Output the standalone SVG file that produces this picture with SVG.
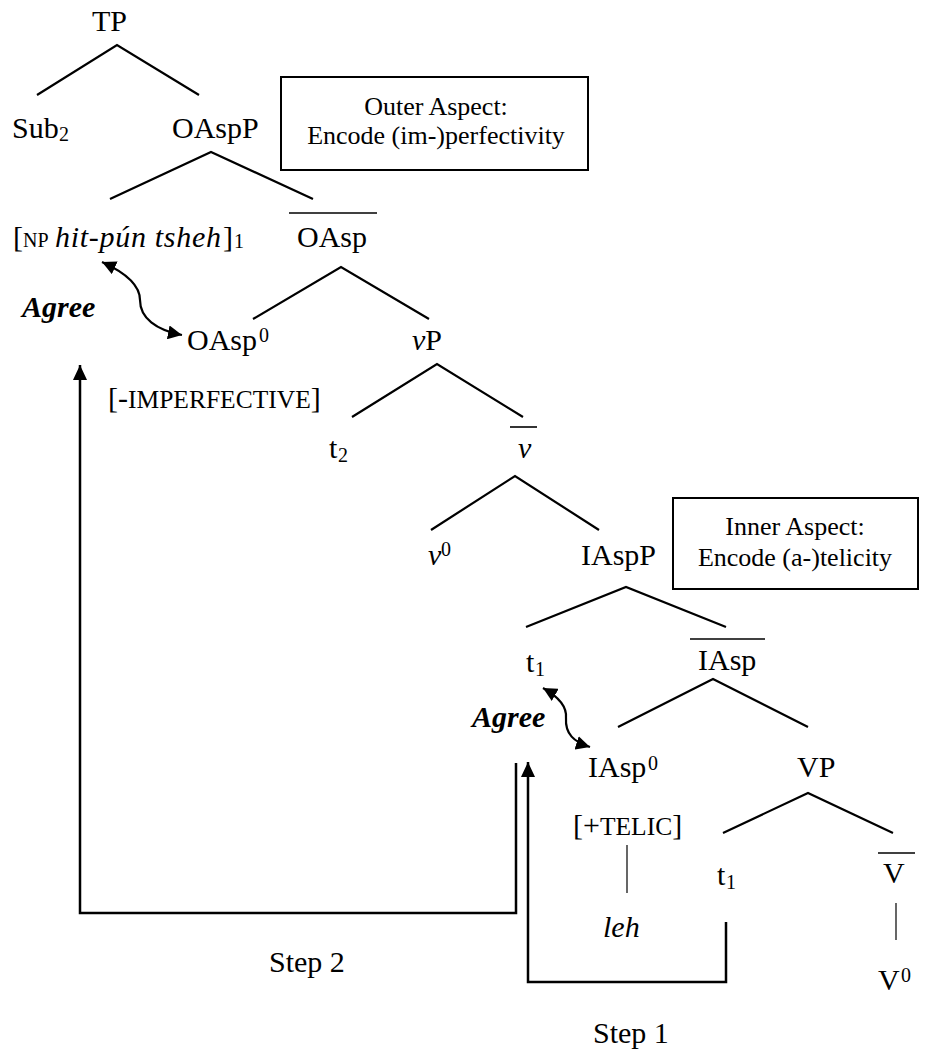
<svg xmlns="http://www.w3.org/2000/svg" width="925" height="1054" viewBox="0 0 925 1054" font-family="'Liberation Serif', 'Times New Roman', serif">
  <style>
    text { font-family: "Liberation Serif", "Times New Roman", serif; font-size: 30px; fill: #000; }
    .it { font-style: italic; }
    .bi { font-style: italic; font-weight: bold; }
    .sm { font-size: 20px; }
    .sc { font-size: 25.5px; }
    .note { font-size: 26px; text-anchor: middle; }
    .branch { fill: none; stroke: #000; stroke-width: 2.2; }
    .bar { stroke: #000; stroke-width: 1.6; }
    .stem { stroke: #000; stroke-width: 1.2; }
    .box { fill: none; stroke: #000; stroke-width: 2; }
    .move { fill: none; stroke: #000; stroke-width: 2.5; marker-end: url(#head); }
    .agree { fill: none; stroke: #000; stroke-width: 2.2; marker-start: url(#tip); marker-end: url(#tip); }
  </style>
  <defs>
    <marker id="head" markerUnits="userSpaceOnUse" markerWidth="16" markerHeight="14" refX="15" refY="7" orient="auto">
      <path d="M0,0 L15,7 L0,14 z" fill="#000"/>
    </marker>
    <marker id="tip" markerUnits="userSpaceOnUse" markerWidth="16" markerHeight="14" refX="14" refY="7" orient="auto-start-reverse">
      <path d="M0,0 L14,7 L0,14 z" fill="#000"/>
    </marker>
  </defs>

  <!-- branches of the tree -->
  <g id="branches">
    <polyline class="branch" points="37,95 117,45 199,95"/>
    <polyline class="branch" points="110,199 211,152 313,199"/>
    <polyline class="branch" points="253,319 341,267 429,319"/>
    <polyline class="branch" points="352,417 437,364 523,417"/>
    <polyline class="branch" points="431,530 515,476 599,530"/>
    <polyline class="branch" points="526,627 626,587 726,627"/>
    <polyline class="branch" points="618,727 713,679 808,727"/>
    <polyline class="branch" points="723,833 808,793 893,833"/>
    <line class="stem" x1="627" y1="845" x2="627" y2="893"/>
    <line class="stem" x1="896" y1="903" x2="896" y2="940"/>
  </g>

  <!-- nodes -->
  <g id="TP"><text x="92" y="31">TP</text></g>
  <g id="Sub2"><text x="12" y="138">Sub</text><text class="sm" x="59" y="141">2</text></g>
  <g id="OAspP"><text x="172" y="138">OAspP</text></g>
  <g id="NP">
    <text x="13" y="247">[</text>
    <text class="sm" x="23" y="247">NP</text>
    <text class="it" x="55" y="247" textLength="166" lengthAdjust="spacing">hit-pún tsheh</text>
    <text x="223" y="247">]</text>
    <text class="sm" x="234" y="248">1</text>
  </g>
  <g id="OAsp-bar">
    <line class="bar" x1="289" y1="213" x2="377" y2="213"/>
    <text x="297" y="247">OAsp</text>
  </g>
  <g id="OAsp0"><text x="187" y="350">OAsp</text><text class="sm" x="259" y="342">0</text></g>
  <g id="vP"><text x="412" y="350"><tspan class="it">v</tspan>P</text></g>
  <g id="imperfective"><text x="108" y="408">[-<tspan class="sc">IMPERFECTIVE</tspan>]</text></g>
  <g id="t2"><text x="329" y="458">t</text><text class="sm" x="338" y="462">2</text></g>
  <g id="v-bar">
    <line class="bar" x1="510" y1="427" x2="537" y2="427"/>
    <text class="it" x="518" y="458">v</text>
  </g>
  <g id="v0"><text class="it" x="428" y="565">v</text><text class="sm" x="441" y="556">0</text></g>
  <g id="IAspP"><text x="581" y="565">IAspP</text></g>
  <g id="t1-spec"><text x="526" y="672">t</text><text class="sm" x="535" y="676">1</text></g>
  <g id="IAsp-bar">
    <line class="bar" x1="690" y1="639" x2="765" y2="639"/>
    <text x="698" y="670">IAsp</text>
  </g>
  <g id="IAsp0"><text x="588" y="777">IAsp</text><text class="sm" x="648" y="770">0</text></g>
  <g id="VP"><text x="797" y="777">VP</text></g>
  <g id="telic"><text x="573" y="835">[+<tspan class="sc">TELIC</tspan>]</text></g>
  <g id="leh"><text class="it" x="603" y="937">leh</text></g>
  <g id="t1-comp"><text x="717" y="885">t</text><text class="sm" x="726" y="889">1</text></g>
  <g id="V-bar">
    <line class="bar" x1="878" y1="853" x2="915" y2="853"/>
    <text x="883" y="883">V</text>
  </g>
  <g id="V0"><text x="878" y="990">V</text><text class="sm" x="901" y="982">0</text></g>

  <!-- aspect notes -->
  <g id="outer-note">
    <rect class="box" x="281" y="77" width="307" height="93"/>
    <text class="note" x="436" y="115">Outer Aspect:</text>
    <text class="note" x="436" y="144">Encode (im-)perfectivity</text>
  </g>
  <g id="inner-note">
    <rect class="box" x="673" y="498" width="245" height="91"/>
    <text class="note" x="795" y="535">Inner Aspect:</text>
    <text class="note" x="795" y="566">Encode (a-)telicity</text>
  </g>

  <!-- agreement and movement -->
  <g id="connectors">
    <path class="agree" d="M102,262 C124,272 140,284 140,300 C140,318 156,330 182,335"/>
    <path class="agree" d="M543,688 C559,697 567,707 566,718 C565,734 574,742 590,747"/>
    <polyline class="move" points="726,922 726,982 528,982 528,762"/>
    <polyline class="move" points="516,763 516,913 80,913 80,365"/>
  </g>

  <g id="labels">
    <text class="bi" x="22" y="317">Agree</text>
    <text class="bi" x="472" y="727">Agree</text>
    <text x="269" y="972">Step 2</text>
    <text x="593" y="1043">Step 1</text>
  </g>
</svg>
